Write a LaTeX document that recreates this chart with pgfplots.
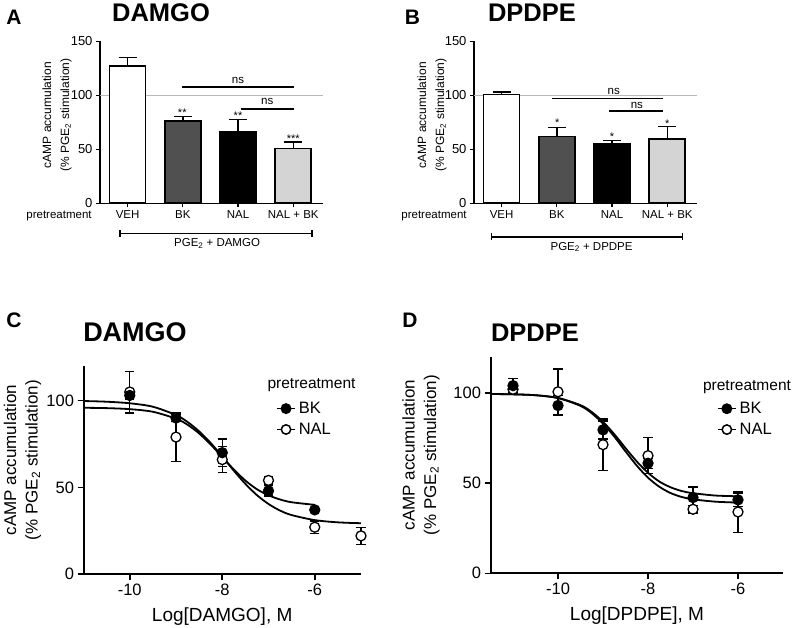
\documentclass[border=0pt]{standalone}
\usepackage{pgfplots}
\pgfplotsset{compat=1.18}
\usepackage{fontspec}
\setmainfont{Liberation Sans}
\usetikzlibrary{arrows.meta}
\newcommand{\fs}[1]{\fontsize{#1}{#1}\selectfont}
\definecolor{dgray}{HTML}{505050}
\definecolor{lgray}{HTML}{D4D4D4}
\definecolor{refline}{HTML}{B8B8B8}
\pgfplotsset{
  barax/.style={scale only axis, anchor=south west, width=222.5pt, height=162pt,
    xmin=-0.5, xmax=3.53, ymin=0, ymax=150,
    axis x line*=bottom, axis y line*=left, axis line style={line width=1.5pt,-},
    xtick={0,1,2,3}, xticklabels={VEH,BK,NAL,NAL + BK}, ytick={0,50,100,150},
    tick align=outside, major tick length=4pt, tick style={line width=1.2pt,black},
    xticklabel style={font=\fs{11.5}}, yticklabel style={font=\fs{13}},
    /pgf/number format/assume math mode=true, clip=false},
  mybar/.style={ybar, bar width=36pt, bar shift=0pt, draw=black, line width=1.6pt,
    error bars/y dir=plus, error bars/y explicit,
    error bars/error bar style={line width=1.4pt,black},
    error bars/error mark options={rotate=90, mark size=9pt, line width=1.4pt, black}},
  sigax/.style={scale only axis, anchor=south west, ymin=0, ymax=120,
    axis x line*=bottom, axis y line*=left, axis line style={line width=2pt,-},
    ytick={0,50,100}, tick align=outside, major tick length=6pt, tick style={line width=1.6pt,black},
    ticklabel style={font=\fs{16.5}}, /pgf/number format/assume math mode=true, clip=false,
    legend cell align=left,
    legend image code/.code={\draw[mark=none] (0pt,0pt) -- (18pt,0pt); \draw plot coordinates {(9pt,0pt)};}},
  pts/.style={only marks, mark=*, mark size=5pt, line width=1.3pt, forget plot,
    error bars/y dir=both, error bars/y explicit,
    error bars/error bar style={line width=1.4pt,black},
    error bars/error mark options={rotate=90, mark size=4.7pt, line width=1.4pt, black}},
}
\begin{document}
\begin{tikzpicture}
\useasboundingbox (0,0) rectangle (792pt,-628pt);
% ---------------- Panel A
\begin{axis}[barax, at={(100pt,-203.3pt)}]
\addplot[refline, line width=0.8pt] coordinates {(-0.5,100) (3.53,100)};
\addplot[mybar, fill=white] coordinates {(0,127.4) +- (0,7.4)};
\addplot[mybar, fill=dgray] coordinates {(1,76.2) +- (0,4)};
\addplot[mybar, fill=black] coordinates {(2,66.3) +- (0,11.5)};
\addplot[mybar, fill=lgray] coordinates {(3,50.6) +- (0,6.2)};
\addplot[black, line width=1.4pt] coordinates {(0.99,107.7) (3.01,107.7)};
\addplot[black, line width=1.4pt] coordinates {(2.05,87.3) (3.01,87.3)};
\addplot[black, line width=1.4pt, arrows={Bar[width=7pt]-Bar[width=7pt]}] coordinates {(-0.15,-27.8) (3.35,-27.8)};
\node[font=\fs{11.5}] at (axis cs:2.0,113.5) {ns};
\node[font=\fs{11.5}] at (axis cs:2.53,94.7) {ns};
\node[font=\fs{11}, anchor=base, inner sep=0pt] at (axis cs:0.99,80.5) {**};
\node[font=\fs{11}, anchor=base, inner sep=0pt] at (axis cs:2.0,78) {**};
\node[font=\fs{11}, anchor=base, inner sep=0pt] at (axis cs:3.0,56.7) {***};
\node[font=\fs{11.5}] at (axis cs:1.62,-37.5) {PGE\textsubscript{2} + DAMGO};
\end{axis}
% ---------------- Panel B
\begin{axis}[barax, at={(474pt,-203.3pt)}]
\addplot[refline, line width=0.8pt] coordinates {(-0.5,100) (3.53,100)};
\addplot[mybar, fill=white] coordinates {(0,100.9) +- (0,2)};
\addplot[mybar, fill=dgray] coordinates {(1,61.7) +- (0,8.7)};
\addplot[mybar, fill=black] coordinates {(2,54.9) +- (0,3.1)};
\addplot[mybar, fill=lgray] coordinates {(3,59.5) +- (0,11.5)};
\addplot[black, line width=1.4pt] coordinates {(0.91,97.2) (2.93,97.2)};
\addplot[black, line width=1.4pt] coordinates {(1.95,85.5) (2.93,85.5)};
\addplot[black, line width=1.4pt, arrows={Bar[width=7pt]-Bar[width=7pt]}] coordinates {(-0.2,-31.2) (3.29,-31.2)};
\node[font=\fs{11.5}] at (axis cs:2.03,104) {ns};
\node[font=\fs{11.5}] at (axis cs:2.45,90.5) {ns};
\node[font=\fs{11}, anchor=base, inner sep=0pt] at (axis cs:1.01,71) {*};
\node[font=\fs{11}, anchor=base, inner sep=0pt] at (axis cs:2.0,58) {*};
\node[font=\fs{11}, anchor=base, inner sep=0pt] at (axis cs:3.0,70.5) {*};
\node[font=\fs{11.5}] at (axis cs:1.63,-40.5) {PGE\textsubscript{2} + DPDPE};
\end{axis}
% ---------------- Panel C
\begin{axis}[sigax, at={(83.5pt,-574pt)}, width=277.5pt, height=208pt,
  xmin=-11, xmax=-5, xtick={-10,-8,-6}, xticklabels={-10,-8,-6},
  legend style={draw=none, fill=none, at={(0.694,0.745)}, anchor=west, font=\fs{16.5},
    row sep=2pt, inner sep=0pt, nodes={inner sep=3pt}}]
\addlegendimage{black, line width=1.5pt, mark=*, mark size=4.7pt, mark options={fill=black}}
\addlegendentry{BK}
\addlegendimage{black, line width=1.5pt, mark=*, mark size=4.7pt, mark options={fill=white}}
\addlegendentry{NAL}
\addplot[black, line width=1.8pt, smooth, forget plot] coordinates {(-11,99.8) (-10.5,99.4) (-10,98.5) (-9.5,96.5) (-9,91.7) (-8.75,87.7) (-8.5,82.3) (-8.25,75.6) (-8,67.8) (-7.75,59.6) (-7.5,52.0) (-7.25,45.5) (-7,40.4) (-6.75,36.6) (-6.5,34.0) (-6,31.1) (-5.5,29.8) (-5,29.3)};
\addplot[black, line width=1.8pt, smooth, forget plot] coordinates {(-11,95.9) (-10.5,95.7) (-10,95.1) (-9.5,93.6) (-9,89.6) (-8.75,86.1) (-8.5,81.1) (-8.25,74.7) (-8,67.5) (-7.75,60.3) (-7.5,53.9) (-7.25,48.9) (-7,45.4) (-6.75,43.0) (-6.5,41.4) (-6,39.9)};
\addplot[pts, black, mark options={fill=white}] coordinates {(-10,105) +- (0,12) (-9,79) +- (0,14) (-8,66) +- (0,7.5) (-7,54) +- (0,2) (-6,27) +- (0,3.6) (-5,22) +- (0,5)};
\addplot[pts, black, mark options={fill=black}] coordinates {(-10,103) +- (0,2) (-9,90) +- (0,2) (-8,70) +- (0,8) (-7,48) +- (0,3) (-6,37) +- (0,1.5)};
\end{axis}
% ---------------- Panel D
\begin{axis}[sigax, at={(490.5pt,-573.3pt)}, width=292.5pt, height=216.5pt,
  xmin=-11.5, xmax=-5, xtick={-10,-8,-6}, xticklabels={-10,-8,-6},
  legend style={draw=none, fill=none, at={(0.774,0.712)}, anchor=west, font=\fs{16.5},
    row sep=2pt, inner sep=0pt, nodes={inner sep=3pt}}]
\addlegendimage{black, line width=1.5pt, mark=*, mark size=4.7pt, mark options={fill=black}}
\addlegendentry{BK}
\addlegendimage{black, line width=1.5pt, mark=*, mark size=4.7pt, mark options={fill=white}}
\addlegendentry{NAL}
\addplot[black, line width=1.8pt, smooth, forget plot] coordinates {(-11.5,99.4) (-11,99.2) (-10.5,98.7) (-10,97.2) (-9.5,93.2) (-9.25,89.4) (-9,84.0) (-8.75,77.1) (-8.5,69.4) (-8.25,62.0) (-8,55.7) (-7.75,50.9) (-7.5,47.7) (-7.25,45.6) (-7,44.4) (-6.5,43.1) (-6,42.7)};
\addplot[black, line width=1.8pt, smooth, forget plot] coordinates {(-11.5,99.4) (-11,99.2) (-10.5,98.7) (-10,97.1) (-9.5,92.8) (-9.25,88.7) (-9,83.0) (-8.75,75.8) (-8.5,67.6) (-8.25,59.7) (-8,53.0) (-7.75,48.0) (-7.5,44.5) (-7.25,42.3) (-7,41.0) (-6.5,39.7) (-6,39.2)};
\addplot[pts, black, mark options={fill=white}] coordinates {(-11,102) +- (0,2) (-10,100.6) +- (0,12.7) (-9,71.3) +- (0,14.3) (-8,65.2) +- (0,10) (-7,35.5) +- (0,2) (-6,34) +- (0,11.3)};
\addplot[pts, black, mark options={fill=black}] coordinates {(-11,104) +- (0,4) (-10,93) +- (0,5.5) (-9,79.5) +- (0,5) (-8,61) +- (0,3) (-7,42) +- (0,5.8) (-6,40.7) +- (0,3.7)};
\end{axis}
% ---------------- texts
\node[font=\fs{21}\bfseries] at (14pt,-17pt) {A};
\node[font=\fs{21}\bfseries] at (412.5pt,-17pt) {B};
\node[font=\fs{21}\bfseries] at (14pt,-320pt) {C};
\node[font=\fs{21}\bfseries] at (410pt,-320pt) {D};
\node[font=\fs{25.5}\bfseries] at (161pt,-13pt) {DAMGO};
\node[font=\fs{25.5}\bfseries] at (532pt,-13pt) {DPDPE};
\node[font=\fs{27}\bfseries] at (135pt,-332.5pt) {DAMGO};
\node[font=\fs{25.5}\bfseries] at (535pt,-333pt) {DPDPE};
\node[font=\fontsize{12}{18}\selectfont, rotate=90, align=center] at (57pt,-115pt) {cAMP accumulation\\(\% PGE\textsubscript{2} stimulation)};
\node[font=\fontsize{12}{18}\selectfont, rotate=90, align=center] at (432pt,-115pt) {cAMP accumulation\\(\% PGE\textsubscript{2} stimulation)};
\node[font=\fontsize{17}{21.5}\selectfont, rotate=90, align=center] at (22.5pt,-460pt) {cAMP accumulation\\(\% PGE\textsubscript{2} stimulation)};
\node[font=\fontsize{17}{21.5}\selectfont, rotate=90, align=center] at (421pt,-455pt) {cAMP accumulation\\(\% PGE\textsubscript{2} stimulation)};
\node[font=\fs{11.5}] at (59pt,-215.7pt) {pretreatment};
\node[font=\fs{11.5}] at (434pt,-215.7pt) {pretreatment};
\node[font=\fs{15.5}] at (311.5pt,-385pt) {pretreatment};
\node[font=\fs{15.5}] at (747pt,-386.7pt) {pretreatment};
\node[font=\fs{19}] at (222.2pt,-617pt) {Log[DAMGO], M};
\node[font=\fs{19}] at (637pt,-616pt) {Log[DPDPE], M};
\end{tikzpicture}
\end{document}
